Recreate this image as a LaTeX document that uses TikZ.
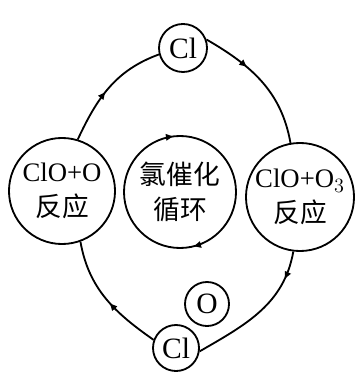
\documentclass[tikz,border=0pt]{standalone}
\usepackage{fontspec}
\setmainfont{Liberation Serif}
\newfontfamily\cjk{Noto Sans CJK SC}
\usetikzlibrary{arrows.meta,decorations.markings}

\tikzset{
  midarrow/.style={postaction={decorate},decoration={markings,
    mark=at position #1 with {\arrow{Triangle[length=5pt,width=4.5pt]}}}},
  backarrows/.style={postaction={decorate},decoration={markings,
    mark=at position 0.27 with {\arrowreversed{Triangle[length=5pt,width=4.5pt]}},
    mark=at position 0.79 with {\arrowreversed{Triangle[length=5pt,width=4.5pt]}}}}
}

\begin{document}
\begin{tikzpicture}
			[x=0.025cm,y=0.025cm,line width=1.3pt,every node/.style={circle,draw,line width=1.3pt,inner sep=0pt,align=center,font=\fontsize{19}{25}\selectfont}]
			\useasboundingbox (0,0) rectangle (362,-379);
			\node[minimum size=1.2cm,font=\fontsize{21}{25}\selectfont] (cl1) at (183,-48) {Cl};
			\node[minimum size=2.65cm] (n1) at (62,-191) {ClO+O\\{\cjk 反应}};
			\node[minimum size=2.8cm,draw=none] (n2) at (180,-192) {{\cjk 氯催化}\\{\cjk 循环}};
			\node[minimum size=2.7cm] (n3) at (300,-197) {ClO+O$_3$\\{\cjk 反应}};
			\node[minimum size=1.15cm,font=\fontsize{21}{25}\selectfont] (cl2) at (176,-348) {Cl};
			\node[minimum size=1.1cm,font=\fontsize{21}{25}\selectfont] (o) at (207,-304) {O};
			
			\draw[backarrows] (n2.center) circle[radius=56];
			
			\foreach \from/\to/\o/\i/\p in {cl1.20/n3.100/-30/100/0.35,n3.-97/cl2.-8/-100/30/0.2,cl2.160/n1.-70/145/-80/0.45,n1.73/cl1.195/65/200/0.45}
			\draw[midarrow=\p] (\from) to[out=\o,in=\i] (\to);
			\end{tikzpicture}
\end{document}
